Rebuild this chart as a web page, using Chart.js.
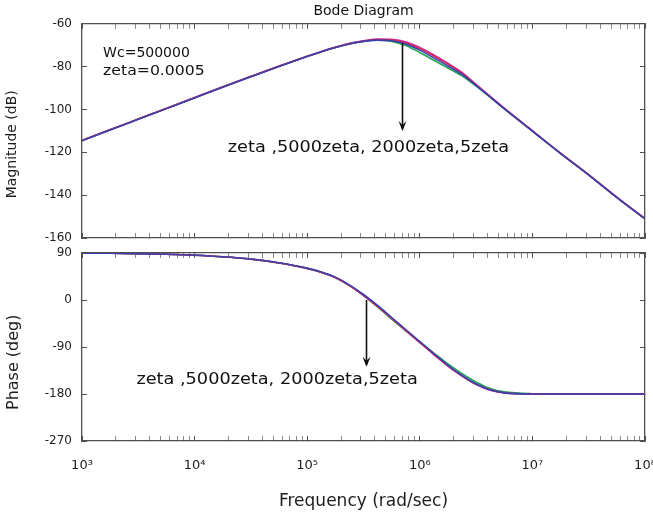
<!DOCTYPE html>
<html>
<head>
<meta charset="utf-8">
<script src="https://cdn.jsdelivr.net/npm/chart.js@4.4.1/dist/chart.umd.min.js"></script>
<style>
  html, body { margin: 0; padding: 0; background: #fff; }
  #wrap { position: relative; width: 653px; height: 512px; overflow: hidden; background: #fff; }
  .pane { position: absolute; left: 0; width: 653px; }
  #top { top: 0; height: 246px; }
  #bot { top: 240px; height: 272px; }
</style>
</head>
<body>
<div id="wrap">
  <div class="pane" id="top"><canvas id="mag"></canvas></div>
  <div class="pane" id="bot"><canvas id="pha"></canvas></div>
</div>
<script>
/* ---- data (rad/sec, dB, deg) ---- */
const FREQ = [1e3, 1.778e3, 3.162e3, 5.623e3, 1e4, 1.778e4, 3.162e4, 5.623e4,
  1e5, 1.334e5, 1.778e5, 2.371e5, 3.162e5, 4.217e5, 5.623e5, 7.499e5,
  1e6, 1.334e6, 1.778e6, 2.371e6, 3.162e6, 4.217e6, 5.623e6,
  1e7, 1.778e7, 3.162e7, 5.623e7, 1e8];

const MAG_ZETA = [-114.6, -109.6, -104.6, -99.6, -94.6, -89.6, -84.7, -79.9, -75.3, -73.1, -71.1, -69.4, -68.2, -67.6,
  -67.9, -69.4, -72.3, -75.9, -79.7, -83.6, -88.8, -94.1, -99.6, -110.1, -120.6, -130.6, -141.1, -151.1];
const MAG_5000ZETA = [-114.5, -109.5, -104.5, -99.5, -94.5, -89.5, -84.6, -79.8, -75.2, -73.0, -71.0, -69.3, -68.1, -67.4,
  -67.6, -68.9, -71.6, -75.0, -78.8, -83.0, -88.5, -94.0, -99.5, -110.0, -120.5, -130.5, -141.0, -151.0];
const MAG_2000ZETA = [-114.5, -109.5, -104.5, -99.5, -94.5, -89.5, -84.6, -79.8, -75.2, -73.0, -71.0, -69.3, -68.2, -67.7,
  -68.2, -70.1, -73.4, -77.0, -80.6, -84.3, -89.1, -94.3, -99.7, -110.1, -120.5, -130.5, -141.0, -151.0];
const MAG_5ZETA = [-114.4, -109.4, -104.4, -99.4, -94.4, -89.4, -84.5, -79.7, -75.1, -72.9, -70.9, -69.1, -67.9, -67.1,
  -67.2, -68.4, -71.0, -74.5, -78.4, -82.7, -88.3, -93.9, -99.4, -109.9, -120.4, -130.4, -140.9, -150.9];

const PH_ZETA = [89.8, 89.4, 88.7, 87.6, 85.8, 82.9, 78.4, 71.3, 61.0, 53.6, 43.8, 29.0, 10.5, -10.5,
  -33.5, -56.5, -79.5, -102.5, -125.0, -144.5, -161.0, -172.5, -177.8, -179.9, -180, -180, -180, -180];
const PH_5000ZETA = [89.8, 89.4, 88.7, 87.6, 85.8, 82.8, 78.2, 71.0, 60.5, 53.0, 43.0, 28.0, 9.0, -12.0,
  -35.0, -58.0, -81.0, -104.0, -126.0, -145.0, -161.0, -172.0, -177.5, -179.8, -180, -180, -180, -180];
const PH_2000ZETA = [89.8, 89.4, 88.7, 87.6, 85.8, 82.8, 78.2, 71.0, 60.5, 53.0, 43.0, 28.0, 9.0, -13.0,
  -36.5, -58.5, -80.0, -101.5, -122.5, -141.0, -157.0, -169.5, -176.0, -179.5, -180, -180, -180, -180];
const PH_5ZETA = [89.8, 89.4, 88.7, 87.6, 85.8, 82.8, 78.1, 70.8, 60.2, 52.6, 42.5, 27.4, 8.4, -12.6,
  -35.6, -58.6, -81.6, -104.6, -126.8, -145.8, -161.8, -172.6, -177.8, -179.9, -180, -180, -180, -180];

const SERIES = ["zeta", "5000zeta", "2000zeta", "5zeta"];
const MAG_TICKS = [-160, -140, -120, -100, -80, -60];
const PHASE_TICKS = [-270, -180, -90, 0, 90];
const DECADES = [1e3, 1e4, 1e5, 1e6, 1e7, 1e8];
const DECADE_LABELS = ["10³", "10⁴", "10⁵", "10⁶", "10⁷", "10⁸"];
const MINOR = [2, 3, 4, 5, 6, 7, 8, 9];

const COLORS = { zeta: "#3b3fb0", "5000zeta": "#e2204e", "2000zeta": "#1da558", "5zeta": "#c23cb4" };
const FRAME = "#505050";
const TEXT = "#1e1e1e";
const FONT = "'DejaVu Sans', sans-serif";

// decade + minor tick positions for the log axis
const X_TICKS = [];
DECADES.forEach((d, i) => {
  X_TICKS.push({ value: d, major: true });
  if (i < DECADES.length - 1) MINOR.forEach((m) => X_TICKS.push({ value: m * d, major: false }));
});

/* notes and arrows, placed in data coordinates; text stretched like the bitmap original */
const notes = {
  id: "notes",
  afterDraw(chart, _args, opts) {
    const ctx = chart.ctx, x = chart.scales.x, y = chart.scales.y;
    ctx.save();
    ctx.fillStyle = "#111";
    ctx.strokeStyle = "#111";
    ctx.textBaseline = "middle";
    opts.texts.forEach((n) => {
      ctx.save();
      ctx.font = (n.size || 15) + "px " + FONT;
      ctx.translate(x.getPixelForValue(n.x), y.getPixelForValue(n.y));
      ctx.scale(n.sx || 1.18, 1);
      ctx.textAlign = n.align || "center";
      ctx.fillText(n.text, 0, 0);
      ctx.restore();
    });
    opts.arrows.forEach((ar) => {
      const px = Math.round(x.getPixelForValue(ar.x)) + 0.5;
      const y1 = y.getPixelForValue(ar.y1), y2 = y.getPixelForValue(ar.y2);
      ctx.lineWidth = 1.6;
      ctx.beginPath(); ctx.moveTo(px, y1); ctx.lineTo(px, y2 - 2); ctx.stroke();
      ctx.beginPath();
      ctx.moveTo(px, y2); ctx.lineTo(px - 4, y2 - 10); ctx.lineTo(px, y2 - 6); ctx.lineTo(px + 4, y2 - 10);
      ctx.closePath(); ctx.fill();
    });
    ctx.restore();
  },
};

function datasets(arrs) {
  return SERIES.map((name, i) => ({
    label: name,
    data: FREQ.map((f, k) => ({ x: f, y: arrs[i][k] })),
    borderColor: COLORS[name],
    borderWidth: 1.6,
    pointRadius: 0,
    cubicInterpolationMode: "monotone",
  }));
}

// inward tick marks, no grid lines, dark box
function inward() {
  return {
    display: true, drawOnChartArea: false, drawTicks: true, tickLength: -5, tickWidth: 1,
    tickColor: (c) => (c.tick && c.tick.major === false ? "#8a8a8a" : FRAME),
  };
}

function xScale(position, showLabels, height) {
  return {
    type: "logarithmic", position, min: 1e3, max: 1e8,
    grid: inward(), border: { display: true, color: FRAME, width: 1.3 },
    afterBuildTicks: (s) => { s.ticks = X_TICKS.map((t) => ({ ...t })); },
    ticks: {
      display: showLabels, autoSkip: false, maxRotation: 0, padding: 22,
      color: TEXT, font: { family: FONT, size: 13 },
      callback: (v) => { const i = DECADES.findIndex((d) => Math.abs(d - v) / d < 1e-6); return i >= 0 ? DECADE_LABELS[i] : ""; },
    },
    title: { display: showLabels, text: "Frequency (rad/sec)", color: TEXT, font: { family: FONT, size: 17 }, padding: { top: 6, bottom: 0 } },
    afterFit: (s) => { s.height = height; s.paddingLeft = 0; s.paddingRight = 0; },
  };
}

function yScale(position, min, max, ticks, title, size) {
  const show = position === "left";
  return {
    position, min, max,
    grid: inward(), border: { display: true, color: FRAME, width: 1.3 },
    afterBuildTicks: (s) => { s.ticks = ticks.map((v) => ({ value: v })); },
    ticks: { display: show, color: TEXT, padding: 15, font: { family: FONT, size: 12 } },
    title: { display: show, text: title, color: TEXT, font: { family: FONT, size }, padding: { top: 4, bottom: 4 } },
    afterFit: (s) => { s.width = show ? 82 : 0; s.paddingTop = 0; s.paddingBottom = 0; },
  };
}

Chart.defaults.font.family = FONT;

new Chart(document.getElementById("mag"), {
  type: "line",
  data: { datasets: datasets([MAG_ZETA, MAG_5000ZETA, MAG_2000ZETA, MAG_5ZETA]) },
  options: {
    responsive: true, maintainAspectRatio: false, animation: false,
    layout: { padding: { left: 0, right: 8, top: 0, bottom: 0 } },
    plugins: {
      legend: { display: false }, tooltip: { enabled: false },
      title: { display: true, fullSize: false, text: "Bode Diagram", color: "#111", font: { family: FONT, size: 14, weight: "normal" }, padding: { top: 3, bottom: 4 } },
      notes: {
        texts: [
          { x: 1.54e3, y: -73.6, text: "Wc=500000", align: "left", size: 14, sx: 1.0 },
          { x: 1.54e3, y: -82.2, text: "zeta=0.0005", align: "left", size: 14, sx: 1.12 },
          { x: 3.5e5, y: -117.9, text: "zeta ,5000zeta, 2000zeta,5zeta" },
        ],
        arrows: [{ x: 6.95e5, y1: -68.9, y2: -110 }],
      },
    },
    scales: {
      x: xScale("bottom", false, 8),
      x2: xScale("top", false, 0),
      y: yScale("left", -160, -60, MAG_TICKS, "Magnitude (dB)      ", 14),
      y2: yScale("right", -160, -60, MAG_TICKS, "", 14),
    },
  },
  plugins: [notes],
});

new Chart(document.getElementById("pha"), {
  type: "line",
  data: { datasets: datasets([PH_ZETA, PH_5000ZETA, PH_2000ZETA, PH_5ZETA]) },
  options: {
    responsive: true, maintainAspectRatio: false, animation: false,
    layout: { padding: { left: 0, right: 8, top: 13, bottom: 0 } },
    plugins: {
      legend: { display: false }, tooltip: { enabled: false },
      notes: {
        texts: [{ x: 5.4e4, y: -153, text: "zeta ,5000zeta, 2000zeta,5zeta" }],
        arrows: [{ x: 3.33e5, y1: 0, y2: -128 }],
      },
    },
    scales: {
      x: xScale("bottom", true, 71),
      x2: xScale("top", false, 0),
      y: yScale("left", -270, 90, PHASE_TICKS, "Phase (deg)      ", 16),
      y2: yScale("right", -270, 90, PHASE_TICKS, "", 16),
    },
  },
  plugins: [notes],
});
</script>
</body>
</html>
